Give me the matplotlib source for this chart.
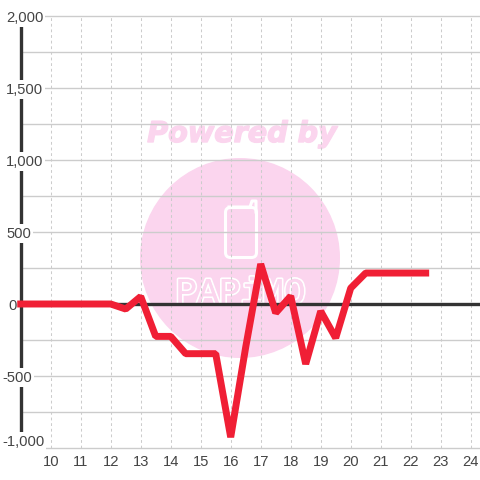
import matplotlib
matplotlib.use("Agg")
import matplotlib.pyplot as plt
import matplotlib.patheffects as pe
from matplotlib.patches import Circle, FancyBboxPatch

plt.rcParams["font.family"] = ["Liberation Sans", "DejaVu Sans"]

hours = [9, 10, 10.5, 11, 11.5, 12, 12.5, 13, 13.5, 14, 14.5, 15, 15.5, 16,
         16.5, 17, 17.5, 18, 18.5, 19, 19.5, 20, 20.5, 21, 21.5, 22, 22.5]
values = [0, 0, 0, 0, 0, 0, -35, 52, -225, -225, -345, -345, -345, -925,
          -300, 278, -62, 55, -417, -50, -236, 110, 215, 215, 215, 215, 215]

x_ticks = list(range(10, 25))
y_grid = list(range(-1000, 2001, 250))
y_ticks = [2000, 1500, 1000, 500, 0, -500, -1000]
y_labels = ["2,000", "1,500", "1,000", "500", "0", "-500", "-1,000"]

PINK = "#fbd5ee"
RED = "#f01f35"
DARK = "#333333"
GRID = "#cccccc"
TEXT = "#444444"

fig = plt.figure(figsize=(4.8, 4.8), dpi=100, facecolor="white")

# watermark sits under the chart, in pixel coordinates
logo = fig.add_axes([0, 0, 1, 1], zorder=0)
logo.set_xlim(0, 480)
logo.set_ylim(480, 0)
logo.axis("off")
logo.add_patch(Circle((240, 258), 100, fc=PINK, ec="none"))
logo.text(242, 134, "Powered by", color=PINK, fontsize=20.6, family="DejaVu Sans",
          weight="bold", style="oblique", ha="center", va="center",
          path_effects=[pe.withStroke(linewidth=1.0, foreground=PINK)])
logo.add_patch(FancyBboxPatch((229, 211), 24, 43, boxstyle="round,pad=3.5,rounding_size=5",
                              fc="none", ec="white", lw=2.2))
logo.plot([229, 250, 252, 256, 256], [207, 207, 201, 201, 212], color="white", lw=2.2,
          solid_joinstyle="round")
logo.text(240.5, 303, "PAPiMO", color=PINK, fontsize=26, family="Liberation Mono",
          ha="center", va="baseline",
          path_effects=[pe.withStroke(linewidth=2.6, foreground="white"), pe.Normal()])

ax = fig.add_axes([0, 0, 1, 1], zorder=1)
ax.patch.set_alpha(0)
ax.set_xlim(10 - 50.7 / 30, 10 + (480 - 50.7) / 30)
ax.set_ylim((304 - 480) / 0.144, 304 / 0.144)
ax.axis("off")

for v in y_grid:
    ax.plot([9, ax.get_xlim()[1]], [v, v], color=GRID, lw=1.0, zorder=1)
for t in x_ticks:
    ax.plot([t, t], [-1000, 2000], color=GRID, lw=0.75, dashes=(2.7, 2.7), zorder=1)

ax.plot([9, ax.get_xlim()[1]], [0, 0], color=DARK, lw=2.4, zorder=2, solid_capstyle="butt")
ax.plot([9, 9], [-1000, 2000], color=DARK, lw=2.4, zorder=2, solid_capstyle="butt")

for v, label in zip(y_ticks, y_labels):
    left = 2 if label.startswith("-") else (8 if label == "0" else 6)
    # lowest label is pushed up a little so it stays above the x labels
    py = 441.5 if v == -1000 else 305.5 - v * 0.144
    ax.annotate(label, xy=(left, 480 - py), xycoords="figure pixels", color=TEXT,
                fontsize=10.6, ha="left", va="center", zorder=3,
                bbox=dict(fc="white", ec="none", pad=1.5))

for t in x_ticks:
    ax.annotate(str(t), xy=(t, -1000), xytext=(0, -14), textcoords="offset pixels",
                color=TEXT, fontsize=10.6, ha="center", va="center", zorder=3)

ax.plot(hours, values, color=RED, lw=5.0, solid_capstyle="projecting", solid_joinstyle="bevel",
        zorder=4)

fig.savefig("out.png", dpi=100)
